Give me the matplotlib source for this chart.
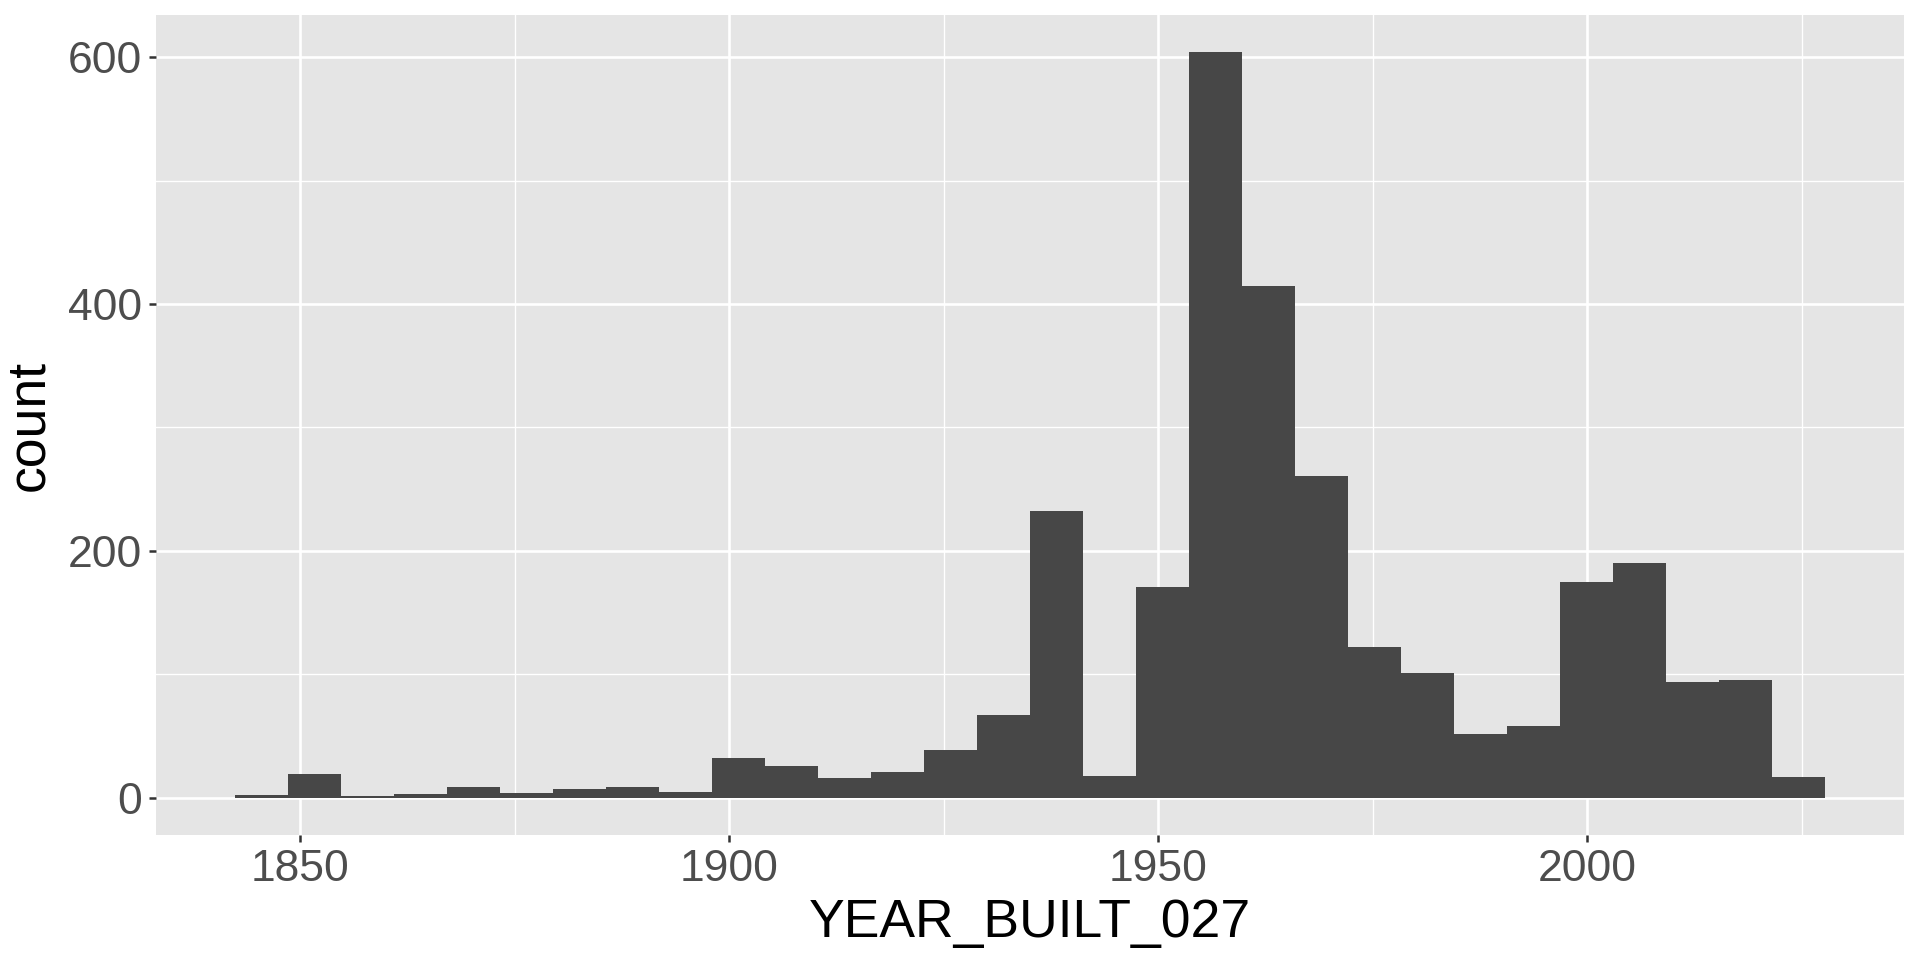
#!/usr/bin/env python

import numpy as np
import matplotlib.pyplot as plt
from matplotlib.ticker import MultipleLocator

plt.rcParams['font.family'] = ['Liberation Sans', 'DejaVu Sans']

# histogram of YEAR_BUILT_027, 30 bins (ggplot style binning)
year_min = 1845
year_max = 2024
n_bins = 30
counts = [2, 19, 1, 3, 9, 4, 7, 9, 5, 32,
          26, 16, 21, 39, 67, 232, 18, 171, 604, 415,
          261, 122, 101, 52, 58, 175, 190, 94, 95, 17]

# same break rule as ggplot2 bins=30
width = (year_max - year_min) / (n_bins - 1)
boundary = width / 2
shift = np.floor((year_min - boundary) / width)
origin = boundary + shift * width
edges = origin + width * np.arange(n_bins + 1)

fig = plt.figure(figsize=(19.2, 9.6), dpi=100)
ax = fig.add_axes([0.08125, 0.1302, 0.91042, 0.8542])
ax.set_facecolor('#E5E5E5')

ax.bar(edges[:-1], counts, width=width, align='edge', color='#474747', linewidth=0, zorder=2)

# ggplot's 5% expansion
xr = edges[-1] - edges[0]
ax.set_xlim(edges[0] - 0.05 * xr, edges[-1] + 0.05 * xr)
yr = max(counts)
ax.set_ylim(-0.05 * yr, yr * 1.05)

ax.xaxis.set_major_locator(MultipleLocator(50))
ax.xaxis.set_minor_locator(MultipleLocator(25))
ax.yaxis.set_major_locator(MultipleLocator(200))
ax.yaxis.set_minor_locator(MultipleLocator(100))
ax.grid(which='major', color='white', linewidth=1.9, zorder=1)
ax.grid(which='minor', color='white', linewidth=0.95, zorder=1)
ax.set_axisbelow(True)
for s in ax.spines.values():
    s.set_visible(False)

ax.tick_params(which='major', length=5, width=1.8, color='#333333',
               labelsize=32, labelcolor='#4D4D4D', pad=5)
ax.tick_params(which='minor', length=0)

ax.set_xlabel('YEAR_BUILT_027', fontsize=38.5, color='black', labelpad=6)
ax.set_ylabel('count', fontsize=38.5, color='black', labelpad=10)

fig.savefig('out.png', dpi=100)
